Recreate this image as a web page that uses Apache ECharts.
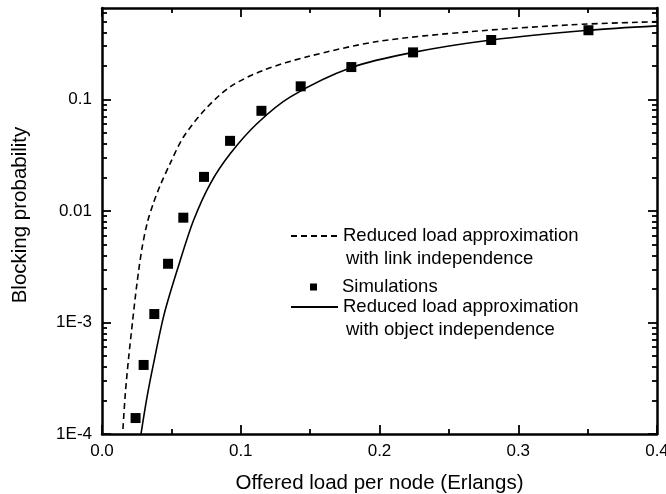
<!DOCTYPE html>
<html>
<head>
<meta charset="utf-8">
<script src="https://cdn.jsdelivr.net/npm/echarts@6/dist/echarts.min.js"></script>
<style>
html,body{margin:0;padding:0;background:#fff}
#chart{width:666px;height:494px}
</style>
</head>
<body>
<div id="chart"></div>
<script>
// simulations
var simLoad = [0.0242, 0.0300, 0.0377, 0.0476, 0.0586, 0.0735, 0.0923, 0.1149, 0.1432, 0.1797, 0.2242, 0.2805, 0.3506];
var simBlock = [1.39e-4, 4.16e-4, 1.19e-3, 3.36e-3, 8.7e-3, 0.0202, 0.0425, 0.079, 0.131, 0.195, 0.264, 0.341, 0.417];

// reduced load approx, link independence (dashed)
var linkLoad = [0.0151, 0.0168, 0.0192, 0.0221, 0.0252, 0.0288, 0.0327, 0.0370, 0.0420, 0.0492, 0.0586, 0.0745, 0.0925, 0.1165, 0.1478, 0.1983, 0.2655, 0.3376, 0.4];
var linkBlock = [1.11e-4, 2.30e-4, 4.84e-4, 1.04e-3, 2.24e-3, 4.61e-3, 7.9e-3, 0.0117, 0.0170, 0.0268, 0.0458, 0.0818, 0.130, 0.183, 0.241, 0.330, 0.405, 0.466, 0.498];

// reduced load approx, object independence (solid)
var objLoad = [0.0281, 0.0325, 0.0370, 0.0449, 0.0557, 0.0660, 0.0781, 0.0925, 0.1118, 0.1358, 0.1797, 0.2242, 0.2805, 0.3506, 0.4];
var objBlock = [1.0e-4, 2.16e-4, 4.19e-4, 1.20e-3, 3.38e-3, 8.24e-3, 0.0176, 0.0327, 0.0608, 0.1054, 0.193, 0.264, 0.341, 0.417, 0.456];

var xTickLabels = ['0.0', '0.1', '0.2', '0.3', '0.4'];
var yTickValues = [1e-4, 1e-3, 0.01, 0.1];
var yTickLabels = ['1E-4', '1E-3', '0.01', '0.1'];

var legendLines = [
    ['Reduced load approximation', 'with link independence'],
    ['Simulations'],
    ['Reduced load approximation', 'with object independence']
];
var seriesNames = ['link', 'sim', 'obj'];

var yMin = 1e-4, yMax = 0.66;

// 2..9 minor ticks per decade
var yMinorValues = [];
for (var e = -4; e <= -1; e++) {
    for (var m = 2; m <= 9; m++) {
        var v = m * Math.pow(10, e);
        if (v <= yMax) yMinorValues.push(+v.toPrecision(2));
    }
}

var font = "'Liberation Sans', Arial, sans-serif";

function pairs(xs, ys) {
    return xs.map(function (x, i) { return [x, ys[i]]; });
}

function yLabel(v) {
    for (var i = 0; i < yTickValues.length; i++) {
        if (Math.abs(Math.log10(v) - Math.log10(yTickValues[i])) < 1e-6) return yTickLabels[i];
    }
    return '';
}

var tickStyle = {color: '#000', width: 1.8};
var lineAxis = {show: true, onZero: false, lineStyle: {color: '#000', width: 2.5}};
var gridBox = {left: 102, right: 9, top: 8, bottom: 60, outerBoundsMode: 'none'};

function xAxisOpt(pos, labels) {
    return {
        type: 'value',
        gridIndex: 0,
        position: pos,
        min: 0,
        max: 0.4,
        interval: 0.1,
        axisLine: lineAxis,
        axisTick: {inside: true, length: 9, lineStyle: tickStyle},
        minorTick: {show: true, splitNumber: 2, length: 5, lineStyle: tickStyle},
        axisLabel: {
            show: labels,
            margin: 9,
            color: '#000',
            fontSize: 17,
            fontFamily: font,
            formatter: function (v) { return xTickLabels[Math.round(v * 10)]; }
        },
        splitLine: {show: false},
        minorSplitLine: {show: false}
    };
}

// major axes carry the frame line; minor ones only the 2..9 ticks
function yAxisOpt(grid, pos, major, labels) {
    return {
        type: 'log',
        logBase: 10,
        gridIndex: grid,
        position: pos,
        offset: 0,
        min: yMin,
        max: yMax,
        axisLine: major ? lineAxis : {show: false, onZero: false},
        axisTick: {inside: true, length: major ? 9 : 5, lineStyle: tickStyle,
            customValues: major ? yTickValues : yMinorValues},
        axisLabel: {
            show: labels,
            customValues: yTickValues,
            margin: 10,
            color: '#000',
            fontSize: 17,
            fontFamily: font,
            formatter: yLabel
        },
        splitLine: {show: false}
    };
}

function hiddenX(grid) {
    return {type: 'value', gridIndex: grid, min: 0, max: 0.4, show: false, axisLine: {onZero: false}};
}

var xBottom = xAxisOpt('bottom', true);
xBottom.name = 'Offered load per node (Erlangs)';
xBottom.nameLocation = 'middle';
xBottom.nameGap = 39;
xBottom.nameTextStyle = {color: '#000', fontSize: 20.5, fontFamily: font};

var yLeft = yAxisOpt(0, 'left', true, true);
yLeft.name = 'Blocking probability';
yLeft.nameLocation = 'middle';
yLeft.nameGap = 71;
yLeft.nameTextStyle = {color: '#000', fontSize: 20.5, fontFamily: font, padding: [0, 0, 0, 12]};

var legendText = {color: '#000', fontSize: 18.5, lineHeight: 19, fontFamily: font};

function legendOpt(idx, left, top, itemW, itemH) {
    var item = idx === 1 ? {name: seriesNames[idx], icon: 'path://M0,0L10,0L10,10L0,10Z'} : seriesNames[idx];
    return {
        left: left,
        top: top,
        padding: 0,
        itemWidth: itemW,
        itemHeight: itemH,
        selectedMode: false,
        data: [item],
        itemStyle: idx === 1 ? {} : {opacity: 0},
        formatter: function () { return legendLines[idx][0]; },
        textStyle: legendText
    };
}

var chart = echarts.init(document.getElementById('chart'));
var option = {
    animation: false,
    backgroundColor: '#fff',
    grid: [gridBox, gridBox, gridBox],
    xAxis: [xBottom, xAxisOpt('top', false), hiddenX(1), hiddenX(2)],
    yAxis: [
        yLeft,
        yAxisOpt(0, 'right', true, false),
        yAxisOpt(1, 'left', false, false),
        yAxisOpt(2, 'right', false, false)
    ],
    legend: [
        legendOpt(0, 290, 226.5, 47, 14),
        legendOpt(1, 310, 277.5, 47, 7),
        legendOpt(2, 290, 297.5, 47, 14)
    ],
    graphic: [
        {type: 'text', x: 346, y: 259, style: {text: legendLines[0][1], fill: '#000', font: '18.5px ' + font, verticalAlign: 'middle'}},
        {type: 'text', x: 346, y: 330, style: {text: legendLines[2][1], fill: '#000', font: '18.5px ' + font, verticalAlign: 'middle'}}
    ],
    series: [
        {
            name: seriesNames[0],
            type: 'line',
            data: pairs(linkLoad, linkBlock),
            symbol: 'none',
            smooth: 0.3,
            lineStyle: {color: '#000', width: 1.6, type: [6, 4]},
            itemStyle: {color: '#000'}
        },
        {
            name: seriesNames[1],
            type: 'scatter',
            data: pairs(simLoad, simBlock),
            symbol: 'rect',
            symbolSize: 10,
            itemStyle: {color: '#000', opacity: 1}
        },
        {
            name: seriesNames[2],
            type: 'line',
            data: pairs(objLoad, objBlock),
            symbol: 'none',
            smooth: 0.3,
            lineStyle: {color: '#000', width: 1.6},
            itemStyle: {color: '#000'}
        }
    ]
};
chart.setOption(option);
</script>
</body>
</html>
